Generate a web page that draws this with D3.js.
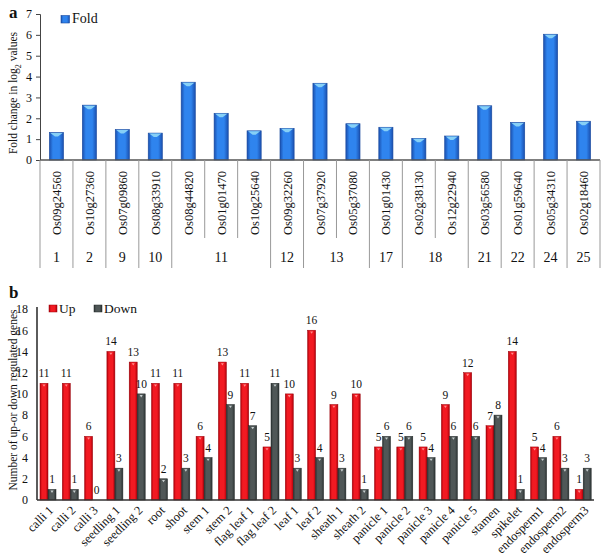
<!DOCTYPE html>
<html><head><meta charset="utf-8">
<script src="https://cdn.jsdelivr.net/npm/d3@7"></script>
<style>body{margin:0;background:#fff}svg{display:block}text{font-family:"Liberation Serif","Times New Roman",serif;fill:#111}</style>
</head><body><svg id="c" width="602" height="557"></svg>
<script>
// Panel a data
const genes = ["Os09g24560","Os10g27360","Os07g09860","Os08g33910","Os08g44820","Os01g01470","Os10g25640","Os09g32260","Os07g37920","Os05g37080","Os01g01430","Os02g38130","Os12g22940","Os03g56580","Os01g59640","Os05g34310","Os02g18460"];
const foldValues = [1.32,2.63,1.46,1.29,3.73,2.24,1.4,1.52,3.68,1.74,1.57,1.04,1.15,2.6,1.8,6.03,1.86];
const geneGroups = ["1","2","9","10","11","11","11","12","13","13","17","18","18","21","22","24","25"];
const foldTicks = [0,1,2,3,4,5,6,7];
// Panel b data
const tissues = ["calli 1","calli 2","calli 3","seedling 1","seedling 2","root","shoot","stem 1","stem 2","flag leaf 1","flag leaf 2","leaf 1","leaf 2","sheath 1","sheath 2","panicle 1","panicle 2","panicle 3","panicle 4","panicle 5","stamen","spikelet","endosperm1","endosperm2","endosperm3"];
const upValues = [11,11,6,14,13,11,11,6,13,11,5,10,16,9,10,5,5,5,9,12,7,14,5,6,1];
const downValues = [1,1,0,3,10,2,3,4,9,7,11,3,4,3,1,6,6,4,6,6,8,1,4,3,3];
const countTicks = [0,2,4,6,8,10,12,14,16,18];
const seriesNames = ["Up","Down"];

const svg = d3.select("#c");
const defs = svg.append("defs");
function grad(id, edge, mid){
  const g = defs.append("linearGradient").attr("id",id).attr("x1","0").attr("x2","1").attr("y1","0").attr("y2","0");
  g.append("stop").attr("offset","0").attr("stop-color",edge);
  g.append("stop").attr("offset","0.25").attr("stop-color",mid);
  g.append("stop").attr("offset","0.7").attr("stop-color",mid);
  g.append("stop").attr("offset","1").attr("stop-color",edge);
}
grad("gBlue","#1a4fae","#2f84ee");
grad("gRed","#b0000a","#f21a22");
grad("gGray","#2c3333","#4f5757");

// ---------- Panel a ----------
const xa = d3.scaleBand().domain(genes).range([40,600]);
const ya = d3.scaleLinear().domain([0,7]).range([160,14]);
const ga = svg.append("g");
ga.append("text").attr("x",9).attr("y",18).attr("font-size",17).attr("font-weight","bold").text("a");
const yAxA = ga.append("g").attr("transform","translate(40,0)")
  .call(d3.axisLeft(ya).tickValues(foldTicks).tickSize(4).tickPadding(4).tickFormat(d3.format("d")));
yAxA.select(".domain").attr("stroke","#444");
yAxA.selectAll(".tick line").attr("stroke","#444");
yAxA.selectAll("text").attr("font-size",12).attr("font-family","Liberation Serif").attr("fill","#222");
const ttl = ga.append("text").attr("transform","translate(17,93) rotate(-90)").attr("text-anchor","middle").attr("font-size",11.5);
ttl.append("tspan").text("Fold change in log");
ttl.append("tspan").attr("font-size",8).attr("dy",3.5).text("2");
ttl.append("tspan").attr("dy",-3.5).text(" values");
const bwA = xa.bandwidth()*0.43;
ga.selectAll("rect.fa").data(genes).join("rect").attr("class","fa")
  .attr("x",d=>xa(d)+(xa.bandwidth()-bwA)/2).attr("width",bwA)
  .attr("y",(d,i)=>ya(foldValues[i])).attr("height",(d,i)=>ya(0)-ya(foldValues[i]))
  .attr("fill","url(#gBlue)").attr("stroke","#1a4a9e").attr("stroke-width",0.6);
ga.selectAll("path.capa").data(genes).join("path").attr("class","capa")
  .attr("d",(d,i)=>{const x0=xa(d)+(xa.bandwidth()-bwA)/2, y0=ya(foldValues[i]);
    return `M${x0+1},${y0+0.5}L${x0+bwA-1},${y0+0.5}L${x0+bwA/2+1.5},${y0+4}L${x0+bwA/2-1.5},${y0+4}Z`;})
  .attr("fill","#86d0f6");
ga.append("line").attr("x1",40).attr("x2",600).attr("y1",ya(0)).attr("y2",ya(0)).attr("stroke","#555").attr("stroke-width",1.3);
const bounds = d3.range(genes.length+1);
ga.selectAll("line.sep").data(bounds).join("line").attr("class","sep")
  .attr("x1",i=>i<genes.length?xa(genes[i]):xa(genes[genes.length-1])+xa.bandwidth())
  .attr("x2",i=>i<genes.length?xa(genes[i]):xa(genes[genes.length-1])+xa.bandwidth())
  .attr("y1",ya(0)).attr("y2",i=>(i===0||i===genes.length||geneGroups[i]!==geneGroups[i-1])?268:238)
  .attr("stroke","#999").attr("stroke-width",1);
ga.selectAll("text.gl").data(genes).join("text").attr("class","gl")
  .attr("transform",d=>`translate(${xa(d)+xa.bandwidth()/2+4.5},171) rotate(-90)`)
  .attr("text-anchor","end").attr("font-size",12.5).text(d=>d);
const groupNames = Array.from(new Set(geneGroups));
ga.selectAll("text.grp").data(groupNames).join("text").attr("class","grp")
  .attr("x",g=>{const idx=genes.filter((d,i)=>geneGroups[i]===g);return (xa(idx[0])+xa(idx[idx.length-1])+xa.bandwidth())/2;})
  .attr("y",262).attr("text-anchor","middle").attr("font-size",14).text(g=>g);
ga.append("rect").attr("x",61).attr("y",15.5).attr("width",8.5).attr("height",7.5).attr("fill","url(#gBlue)").attr("stroke","#1a4a9e").attr("stroke-width",0.6);
ga.append("text").attr("x",72).attr("y",23).attr("font-size",14).text("Fold");

// ---------- Panel b ----------
const xb = d3.scaleBand().domain(tissues).range([37,594.5]);
const xs = d3.scaleBand().domain(seriesNames).range([3,19]);
const yb = d3.scaleLinear().domain([0,18]).range([500,309]);
const gb = svg.append("g");
gb.append("text").attr("x",9).attr("y",298).attr("font-size",17).attr("font-weight","bold").text("b");
const yAxB = gb.append("g").attr("transform","translate(37,0)")
  .call(d3.axisLeft(yb).tickValues(countTicks).tickSize(0).tickPadding(9).tickFormat(d3.format("d")));
yAxB.select(".domain").remove();
yAxB.selectAll("text").attr("font-size",12).attr("font-family","Liberation Serif").attr("fill","#222");
gb.append("text").attr("transform","translate(17,400) rotate(-90)").attr("text-anchor","middle")
  .attr("font-size",11.5).text("Number of up-or down regulated genes");
const series = [
  {name:"Up", vals:upValues, fill:"url(#gRed)", stroke:"#9a0008", cap:"#ff8a8a"},
  {name:"Down", vals:downValues, fill:"url(#gGray)", stroke:"#222828", cap:"#c8d0d0"}
];
series.forEach(s=>{
  const bw = xs.bandwidth();
  gb.selectAll(null).data(tissues).join("rect")
    .attr("x",d=>xb(d)+xs(s.name)).attr("width",bw)
    .attr("y",(d,i)=>yb(s.vals[i])).attr("height",(d,i)=>yb(0)-yb(s.vals[i]))
    .attr("fill",s.fill).attr("stroke",s.stroke).attr("stroke-width",0.5);
  gb.selectAll(null).data(tissues.filter((d,i)=>s.vals[i]>0)).join("path")
    .attr("d",d=>{const i=tissues.indexOf(d);const x0=xb(d)+xs(s.name), y0=yb(s.vals[i]);
      return `M${x0+2.5},${y0+1.2}L${x0+bw-2.5},${y0+1.2}L${x0+bw/2},${y0+3.5}Z`;})
    .attr("fill",s.cap);
  gb.selectAll(null).data(tissues).join("text")
    .attr("x",d=>xb(d)+xs(s.name)+bw/2).attr("y",(d,i)=>yb(s.vals[i])-6)
    .attr("text-anchor","middle").attr("font-size",11.5).text((d,i)=>s.vals[i]);
});
gb.append("line").attr("x1",37).attr("x2",37).attr("y1",307).attr("y2",500).attr("stroke","#333").attr("stroke-width",1.6);
gb.append("line").attr("x1",37).attr("x2",594).attr("y1",500).attr("y2",500).attr("stroke","#333").attr("stroke-width",1.6);
gb.selectAll("text.tl").data(tissues).join("text").attr("class","tl")
  .attr("transform",d=>`translate(${xb(d)+xb.bandwidth()/2+6},511) rotate(-45)`)
  .attr("text-anchor","end").attr("font-size",12.5).text(d=>d);
gb.append("rect").attr("x",49).attr("y",305).attr("width",8).attr("height",7).attr("fill","url(#gRed)").attr("stroke","#9a0008").attr("stroke-width",0.5);
gb.append("text").attr("x",59).attr("y",313).attr("font-size",13.5).text("Up");
gb.append("rect").attr("x",94).attr("y",305).attr("width",8).attr("height",7).attr("fill","url(#gGray)").attr("stroke","#222828").attr("stroke-width",0.5);
gb.append("text").attr("x",104).attr("y",313).attr("font-size",13.5).text("Down");
</script></body></html>
